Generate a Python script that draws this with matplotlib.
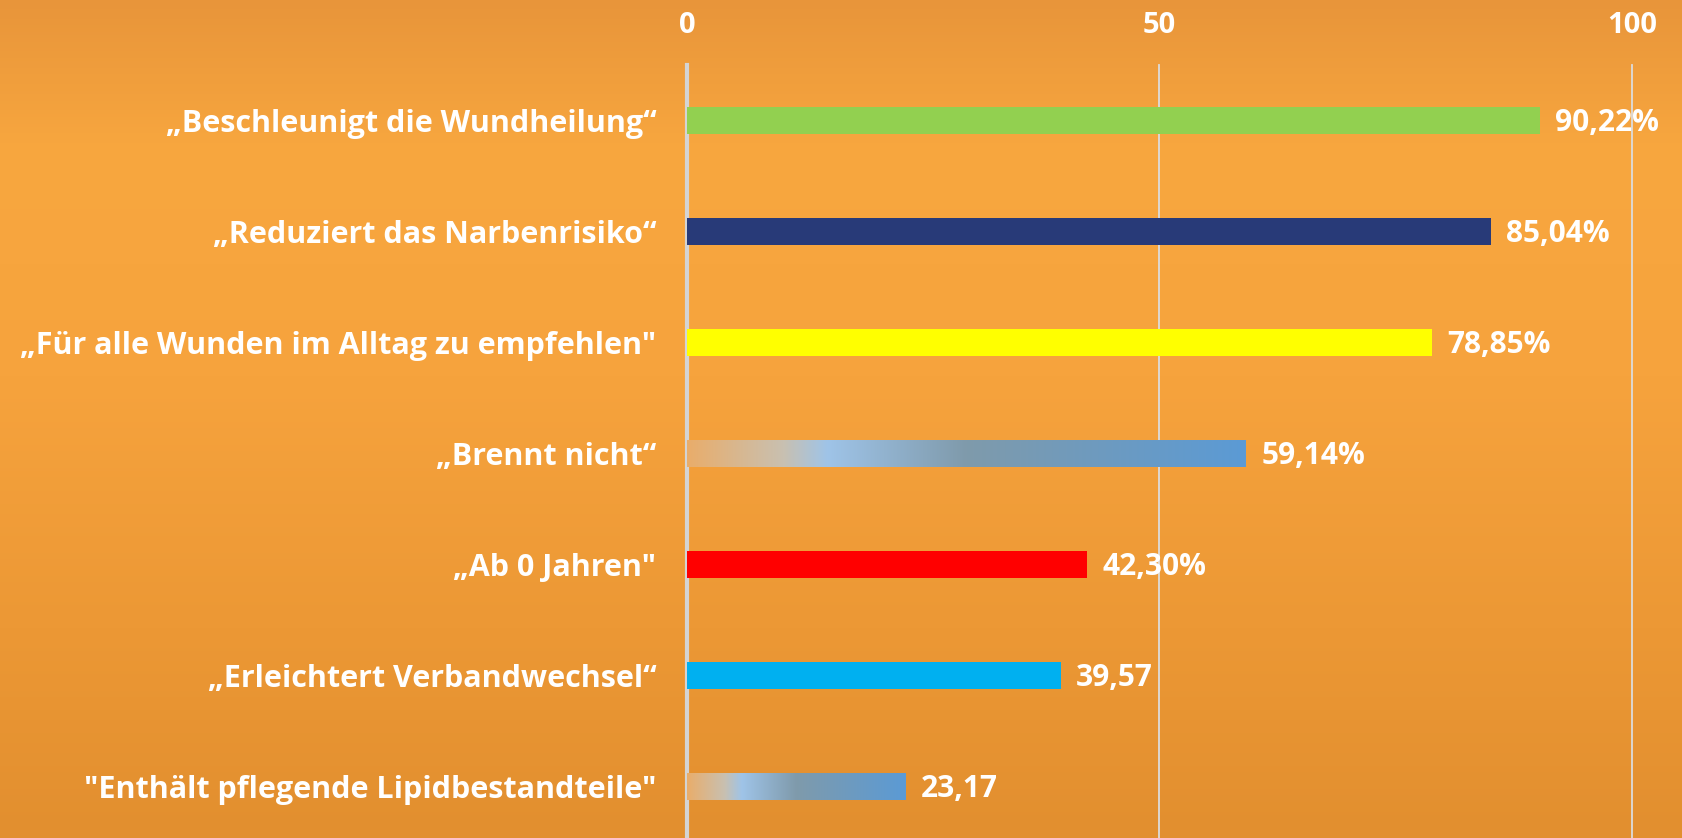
import numpy as np
import matplotlib
matplotlib.use("Agg")
import matplotlib.pyplot as plt
from matplotlib.colors import LinearSegmentedColormap, to_rgb

# ── Data ──────────────────────────────────────────────────────────────────────
labels = [
    "\u201eBeschleunigt die Wundheilung\u201c",
    "\u201eReduziert das Narbenrisiko\u201c",
    "\u201eF\u00fcr alle Wunden im Alltag zu empfehlen\"",
    "\u201eBrennt nicht\u201c",
    "\u201eAb 0 Jahren\"",
    "\u201eErleichtert Verbandwechsel\u201c",
    "\"Enth\u00e4lt pflegende Lipidbestandteile\"",
]
values = [90.22, 85.04, 78.85, 59.14, 42.30, 39.57, 23.17]
value_texts = ["90,22%", "85,04%", "78,85%", "59,14%", "42,30%", "39,57", "23,17"]
bar_colors = ["#92d050", "#283a78", "#ffff00", "gradient", "#ff0000", "#00b0f0", "gradient"]
xticks = [0, 50, 100]

FONT = "Open Sans"
W, H, DPI = 16.83, 8.38, 100

fig = plt.figure(figsize=(W, H), dpi=DPI)

# background: orange vertical gradient, lighter in the upper middle
bg = fig.add_axes([0, 0, 1, 1], zorder=-10)
bg_stops = [(0.0, "#e8953a"), (0.18, "#f8a73f"), (0.45, "#f6a33d"),
            (0.75, "#ec9835"), (1.0, "#e28f2f")]
bg_cmap = LinearSegmentedColormap.from_list("bg", [(p, to_rgb(c)) for p, c in bg_stops])
grad = np.linspace(0, 1, 256).reshape(-1, 1)
bg.imshow(grad, aspect="auto", cmap=bg_cmap, extent=[0, 1, 1, 0])
bg.axis("off")

# bar gradient (gray/blue office-style fill, stretched over each bar)
bar_stops = [(0.0, "#e9ad6b"), (0.17, "#c9c0b0"), (0.25, "#9fc4e8"),
             (0.5, "#7f9aab"), (1.0, "#5b9bd5")]
bar_cmap = LinearSegmentedColormap.from_list("bar", [(p, to_rgb(c)) for p, c in bar_stops])

top_px, bottom_px = 65, 842
left_px, right_px = 687, 1632
ax = fig.add_axes([left_px / 1683, 1 - bottom_px / 838,
                   (right_px - left_px) / 1683, (bottom_px - top_px) / 838])
ax.set_facecolor("none")

y = np.arange(len(labels))
bh = 0.235
for i, (v, c) in enumerate(zip(values, bar_colors)):
    if c == "gradient":
        ax.imshow(np.linspace(0, 1, 256).reshape(1, -1), cmap=bar_cmap, aspect="auto",
                  extent=[0, v, i + bh / 2, i - bh / 2], zorder=3, interpolation="bilinear")
    else:
        ax.barh(i, v, height=bh, color=c, zorder=3)
    ax.annotate(value_texts[i], (v, i), xytext=(11, -2), textcoords="offset points",
                va="center", ha="left", color="white", fontsize=21.5,
                fontweight="bold", family=FONT, zorder=4)

ax.set_xlim(0, 100)
ax.set_ylim(len(labels) - 0.5, -0.5)

# grid
for t in xticks:
    lw = 3 if t == 0 else 1.3
    col = "#d4d4d4" if t == 0 else "#dcdcdc"
    ax.axvline(t, color=col, lw=lw, zorder=2, clip_on=False)

ax.xaxis.tick_top()
ax.set_xticks(xticks)
ax.set_xticklabels([str(t) for t in xticks])
ax.set_yticks(y)
ax.set_yticklabels(labels)
ax.tick_params(axis="x", length=0, pad=18, labelsize=21, labelcolor="white")
ax.tick_params(axis="y", length=0, pad=22, labelsize=22, labelcolor="white")
for lab in ax.get_xticklabels() + ax.get_yticklabels():
    lab.set_family(FONT)
    lab.set_fontweight("bold")
for s in ax.spines.values():
    s.set_visible(False)

fig.savefig("out.png", dpi=DPI)
